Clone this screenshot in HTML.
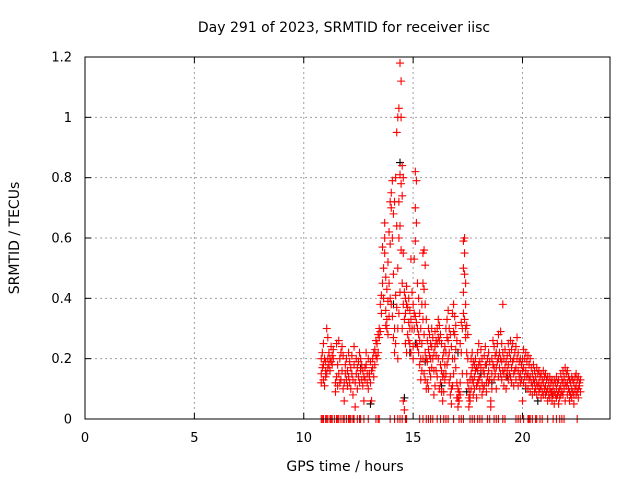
<!DOCTYPE html>
<html><head><meta charset="utf-8"><style>
html,body{margin:0;padding:0;background:#fff;}
svg{display:block;font-family:"DejaVu Sans","Liberation Sans",sans-serif;}
</style></head><body>
<svg id="chart" width="640" height="480" viewBox="0 0 640 480" xmlns="http://www.w3.org/2000/svg">
<rect width="640" height="480" fill="#fff"/>
<g id="grid"></g>
<g id="marks"></g>
<rect x="85" y="57" width="525" height="362" fill="none" stroke="#000" stroke-width="1"/>
<g id="ticks"></g>
<text x="344" y="32" font-size="14" text-anchor="middle">Day 291 of 2023, SRMTID for receiver iisc</text>
<text x="345" y="471" font-size="14" text-anchor="middle">GPS time / hours</text>
<text transform="translate(19,238) rotate(-90)" font-size="14" text-anchor="middle">SRMTID / TECUs</text>
</svg>
<script>
const xTicks=[0,5,10,15,20];
const yTicks=[0,0.2,0.4,0.6,0.8,1,1.2];
const yTickLabels=["0","0.2","0.4","0.6","0.8","1","1.2"];
const times=[10.8,10.85,10.9,10.95,11.0,11.05,11.1,11.15,11.2,11.25,11.3,11.35,
11.45,11.5,11.55,11.6,11.65,11.7,11.75,11.8,11.85,11.9,11.95,12.0,12.05,12.1,12.15,12.2,12.25,12.3,12.35,12.4,12.45,12.5,12.55,12.6,12.65,12.7,12.75,12.8,12.85,12.9,12.95,13.0,13.05,13.1,13.15,13.2,13.25,13.3,13.35,13.4,
13.45,13.5,13.55,13.6,13.65,13.7,13.75,13.8,13.85,13.9,13.95,14.0,14.05,14.1,14.15,14.2,14.25,14.3,
14.35,14.4,14.45,14.5,14.55,14.6,14.65,14.7,14.75,14.8,14.85,14.9,14.95,15.0,15.05,15.1,15.15,15.2,15.25,15.3,15.35,15.4,15.45,15.5,15.55,15.6,15.65,15.7,15.75,15.8,15.85,15.9,15.95,16.0,16.05,16.1,16.15,16.2,16.25,16.3,16.35,16.4,16.45,16.5,16.55,16.6,16.65,16.7,16.75,16.8,16.85,16.9,16.95,17.0,17.05,17.1,17.15,17.2,17.25,17.3,17.35,17.4,17.45,17.5,17.55,17.6,17.65,17.7,17.75,17.8,17.85,17.9,17.95,18.0,18.05,18.1,18.15,18.2,18.25,18.3,18.35,18.4,18.45,18.5,18.55,18.6,18.65,18.7,18.75,18.8,18.85,18.9,18.95,19.0,19.05,19.1,19.15,19.2,19.25,19.3,19.35,19.4,19.45,19.5,19.55,19.6,19.65,19.7,19.75,19.8,19.85,19.9,19.95,20.0,20.05,20.1,20.15,20.2,20.25,20.3,20.35,20.4,20.45,20.5,20.55,20.6,20.65,20.7,20.75,20.8,20.85,20.9,20.95,21.0,21.05,21.1,21.15,21.2,21.25,21.3,21.35,21.4,21.45,21.5,21.55,21.6,21.65,21.7,21.75,21.8,21.85,21.9,21.95,22.0,22.05,22.1,22.15,22.2,22.25,22.3,22.35,22.4,22.45,22.5,22.55,22.6,22.65];
const srmtid=[[0.20,0.15,0.12],[0.22,0.17],[0.25,0.13,0.18],[0.2,0.11],[0.16,0.14,0.19],[0.3,0.15],[0.27,0.2,0.17],[0.22,0.18],[0.2,0.16],[0.24,0.19],[0.18,0.21],[0.2,0.23],
[0.12,0.09],[0.14,0.25],[0.11,0.18],[0.15,0.26],[0.12,0.2],[0.22,0.13],[0.16,0.24],[0.1,0.21],[0.12,0.06],[0.15,0.18],[0.2,0.13],[0.16,0.11],[0.14,0.22],[0.12,0.19],[0.17,0.1],[0.21,0.15],[0.13,0.08],[0.18,0.24],[0.12,0.04],[0.15,0.2],[0.1,0.17],[0.19,0.14],[0.22,0.12],[0.16,0.2],[0.13,0.18],[0.16,0.11],[0.14,0.06],[0.17,0.13],[0.18,0.22],[0.12,0.15],[0.2,0.1],[0.15,0.14],[0.19,0.12],[0.16,0.06],[0.2,0.17],[0.22,0.14],[0.18,0.23],[0.21,0.26],[0.25,0.2],[0.28,0.22],
[0.3,0.27],[0.29,0.38],[0.41,0.35],[0.45,0.57],[0.5,0.4],[0.6,0.65,0.55],[0.47,0.36,0.31],[0.43,0.33,0.3],[0.39,0.52,0.28],[0.62,0.45,0.34],[0.72,0.58,0.4],[0.75,0.7,0.38],[0.79,0.6,0.34],[0.68,0.48,0.27],[0.72,0.3,0.22],[0.8,0.41,0.25],[0.95,0.64,0.37],[1.0,0.5,0.3,0.2],
[1.03,0.72,0.6,0.35],[1.18,0.81,0.64,0.42],[1.12,1.0,0.78,0.56],[0.84,0.74,0.45,0.3],[0.8,0.55,0.38,0.06],[0.42,0.33,0.03],[0.4,0.35,0.25],[0.44,0.38,0.22],[0.37,0.28],[0.4,0.32,0.26],[0.36,0.3,0.25],[0.53,0.33,0.22],[0.42,0.3],[0.38,0.24,0.2],[0.53,0.35,0.3],[0.82,0.7,0.59,0.34],[0.79,0.65,0.32,0.25],[0.45,0.3,0.24],[0.4,0.28,0.22],[0.35,0.26,0.18],[0.3,0.2,0.13],[0.38,0.25,0.16],[0.55,0.45,0.33,0.2],[0.56,0.43,0.28,0.15],[0.51,0.38,0.22,0.13],[0.33,0.2,0.1],[0.26,0.19,0.12],[0.3,0.23,0.1],[0.28,0.21,0.16],[0.25,0.2,0.14],[0.3,0.24,0.17],[0.27,0.2],[0.22,0.16,0.08],[0.29,0.24,0.11],[0.26,0.21,0.16],[0.3,0.25,0.14],[0.33,0.27,0.2],[0.31,0.26,0.1],[0.28,0.18,0.12],[0.25,0.16,0.09],[0.2,0.14,0.06],[0.22,0.15,0.09],[0.24,0.18,0.13],[0.3,0.22,0.15],[0.33,0.27,0.18],[0.36,0.26,0.2],[0.3,0.22,0.12],[0.28,0.14,0.08],[0.24,0.1,0.05],[0.35,0.2,0.11],[0.38,0.29,0.15],[0.34,0.28,0.2],[0.31,0.23,0.17],[0.26,0.12,0.07],[0.1,0.07,0.04],[0.09,0.06],[0.25,0.12,0.08],[0.32,0.22],[0.3,0.15],[0.59,0.5,0.42,0.35],[0.6,0.55,0.48,0.33],[0.45,0.38,0.3,0.27],[0.31,0.22,0.15],[0.28,0.2,0.12],[0.1,0.07,0.04],[0.13,0.08,0.06],[0.2,0.15,0.1],[0.22,0.17,0.13],[0.19,0.12,0.08],[0.18,0.14,0.1],[0.2,0.16],[0.17,0.11,0.07],[0.22,0.16,0.12],[0.25,0.18,0.13],[0.19,0.14,0.1],[0.23,0.17],[0.2,0.12,0.08],[0.16,0.1],[0.21,0.15,0.11],[0.24,0.18],[0.18,0.12,0.09],[0.2,0.14],[0.22,0.16,0.12],[0.19,0.13],[0.06,0.04],[0.2,0.15,0.1],[0.26,0.18],[0.24,0.17,0.13],[0.21,0.15],[0.22,0.17,0.1],[0.25,0.19],[0.28,0.2,0.14],[0.22,0.17],[0.29,0.2,0.15],[0.25,0.19,0.13],[0.38,0.22,0.16],[0.2,0.15,0.11],[0.23,0.17],[0.19,0.14,0.1],[0.21,0.16],[0.25,0.18,0.13],[0.22,0.15],[0.26,0.2,0.14],[0.23,0.17,0.12],[0.25,0.19],[0.2,0.15,0.11],[0.22,0.16],[0.24,0.17,0.13],[0.27,0.2],[0.22,0.16,0.11],[0.19,0.14],[0.2,0.15,0.12],[0.18,0.13],[0.2,0.16,0.06],[0.23,0.17,0.12],[0.2,0.14],[0.22,0.16,0.11],[0.19,0.14],[0.21,0.15,0.1],[0.18,0.13],[0.2,0.14,0.09],[0.17,0.12],[0.15,0.11,0.08],[0.18,0.13],[0.16,0.12,0.09],[0.14,0.1],[0.17,0.12,0.08],[0.15,0.11],[0.16,0.12,0.09],[0.14,0.1],[0.15,0.11,0.07],[0.13,0.09],[0.16,0.12,0.08],[0.14,0.1],[0.15,0.11,0.08],[0.13,0.09],[0.14,0.1,0.06],[0.12,0.08],[0.14,0.1,0.07],[0.12,0.09],[0.13,0.09,0.06],[0.11,0.08],[0.13,0.09,0.05],[0.12,0.08],[0.14,0.1,0.07],[0.12,0.08],[0.13,0.09,0.05],[0.1,0.07],[0.15,0.11,0.08],[0.13,0.09],[0.16,0.12,0.08],[0.14,0.1],[0.17,0.12,0.06],[0.15,0.11],[0.16,0.12,0.08],[0.14,0.1],[0.13,0.09,0.06],[0.12,0.08],[0.14,0.1,0.07],[0.13,0.09],[0.12,0.08,0.05],[0.14,0.1],[0.15,0.11,0.08],[0.13,0.09],[0.14,0.1,0.07],[0.12,0.11],[0.13,0.09]];
const zeroTimes=[10.8,10.85,10.9,11.0,11.05,11.1,11.2,11.25,11.3,11.4,11.5,11.55,11.6,11.7,11.8,11.85,11.95,12.05,12.1,12.15,12.25,12.3,12.45,12.55,12.6,12.75,12.95,13.3,13.4,13.45,13.95,14.15,14.3,14.4,14.5,14.65,14.7,15.3,15.45,15.6,15.7,15.8,15.9,16.1,16.25,16.4,16.5,16.6,16.85,17.1,17.2,17.3,17.6,17.7,17.8,17.95,18.05,18.15,18.4,18.5,18.7,18.8,18.9,19.1,19.2,19.7,19.8,19.9,20.05,20.25,20.3,20.35,20.45,20.6,20.65,20.8,20.9,21.15,21.4,21.55,21.7,21.8,21.9,22.5];
const blackTimes=[12.6,13.05,14.1,14.4,14.6,14.85,15.1,15.55,16.3,17.05,17.45,18.1,18.6,19.3,20.15,20.7,21.35];
const blackValues=[0.17,0.05,0.38,0.85,0.07,0.22,0.25,0.19,0.11,0.22,0.09,0.15,0.12,0.14,0.1,0.06,0.08];

const L=85,R=610,T=57,B=419,XMAX=24,YMAX=1.2;
function xs(v){return L+(R-L)*v/XMAX;}
function ys(v){return B-(B-T)*v/YMAX;}
const NS="http://www.w3.org/2000/svg";
const grid=document.getElementById('grid'),ticks=document.getElementById('ticks'),marks=document.getElementById('marks');
function mk(tag,attrs,parent){const e=document.createElementNS(NS,tag);for(const k in attrs)e.setAttribute(k,attrs[k]);parent.appendChild(e);return e;}
xTicks.forEach(t=>{
  const x=xs(t);
  if(t>0){const g=mk('line',{x1:x,x2:x,y1:T,y2:B,stroke:'#a0a0a0','stroke-dasharray':'2,3'},grid);
  
  }
  mk('line',{x1:x,x2:x,y1:B,y2:B-6,stroke:'#000'},ticks);
  mk('line',{x1:x,x2:x,y1:T,y2:T+6,stroke:'#000'},ticks);
  const lb=mk('text',{x:x,y:442,'font-size':13,'text-anchor':'middle'},ticks);
  lb.textContent=String(t);
  
  
});
yTicks.forEach((t,i)=>{
  const y=ys(t);
  if(t>0&&t<YMAX){const g=mk('line',{x1:L,x2:R,y1:y,y2:y,stroke:'#a0a0a0','stroke-dasharray':'2,3'},grid);
  
  }
  mk('line',{x1:L,x2:L+6,y1:y,y2:y,stroke:'#000'},ticks);
  mk('line',{x1:R,x2:R-6,y1:y,y2:y,stroke:'#000'},ticks);
  const lb=mk('text',{x:72,y:y+4.5,'font-size':13,'text-anchor':'end'},ticks);
  lb.textContent=yTickLabels[i];
  
  
});
function plus(x,y,color,name){
  const p=mk('path',{d:`M${x-4},${y}H${x+4}M${x},${y-4}V${y+4}`,stroke:color,'stroke-width':1.1,fill:'none'},marks);
  
  
}
blackTimes.forEach((t,i)=>plus(xs(t),ys(blackValues[i]),'#000','black-point'));
zeroTimes.forEach(t=>plus(xs(t),ys(0),'#f00','zero-point'));
times.forEach((t,i)=>srmtid[i].forEach(v=>plus(xs(t),ys(v),'#f00','srmtid-point')));
</script>
</body></html>
